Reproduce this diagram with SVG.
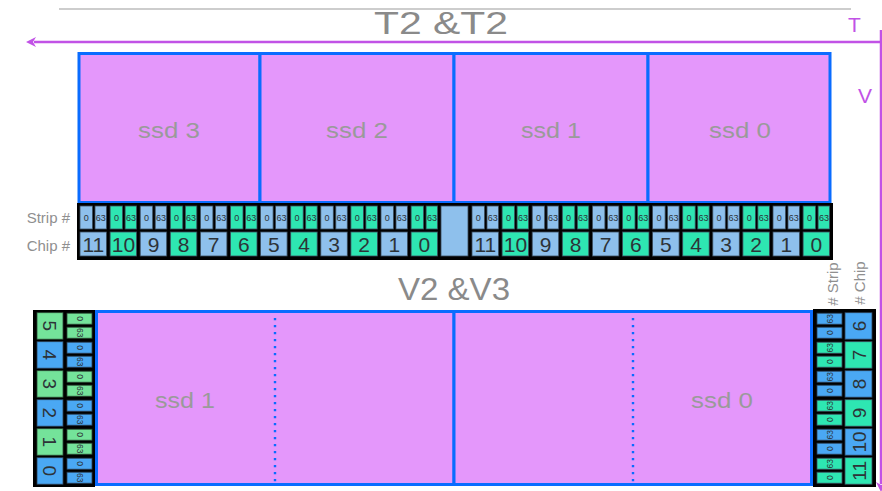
<svg xmlns="http://www.w3.org/2000/svg" width="882" height="491" viewBox="0 0 882 491">
  <defs>
    <style>
      .ssd{fill:#e497fb;stroke:#0a6cff;stroke-width:3}
      .lbl{font-family:"Liberation Sans",Arial,sans-serif;fill:#9a9a9a;font-size:22px;text-anchor:middle}
      .title{font-family:"Liberation Sans",Arial,sans-serif;fill:#8a8a8a;font-size:31px;text-anchor:middle}
      .side{font-family:"Liberation Sans",Arial,sans-serif;fill:#8f8f8f;font-size:15px}
      .axis{font-family:"Liberation Sans",Arial,sans-serif;fill:#c152e6;font-size:21px}
      .b{fill:#8ec0ec;stroke:#3b4c5c;stroke-width:0.8}
      .g{fill:#2ee6b2;stroke:#3b4c5c;stroke-width:0.8}
      .bb{fill:#4aa8f4;stroke:#2b3f55;stroke-width:0.8}
      .lg{fill:#74e39a;stroke:#2b4a35;stroke-width:0.8}
      .chip{font-family:"Liberation Sans",Arial,sans-serif;fill:#2d3338;font-size:21px;text-anchor:middle}
      .strip{font-family:"Liberation Sans",Arial,sans-serif;fill:#2d3338;font-size:9px;text-anchor:middle}
      .chipv{font-family:"Liberation Sans",Arial,sans-serif;fill:#2d3338;font-size:19px;text-anchor:middle}
      .stripv{font-family:"Liberation Sans",Arial,sans-serif;fill:#2d3338;font-size:8.5px;text-anchor:middle}
      .ax{stroke:#c152e6;stroke-width:2.5;fill:none}
    </style>
    <marker id="ah" viewBox="0 0 10 10" refX="2" refY="5" markerWidth="4" markerHeight="4" orient="auto-start-reverse">
      <path d="M0,0 L10,5 L0,10 L3,5 z" fill="#c152e6"/>
    </marker>
  </defs>

  <!-- header rule and axes -->
  <line x1="59" y1="9" x2="851" y2="9" stroke="#bdbdbd" stroke-width="1.5"/>
  <g id="axes">
    <line class="ax" x1="882" y1="42" x2="34" y2="42" marker-end="url(#ah)"/>
    <line class="ax" x1="881" y1="30" x2="881" y2="484" marker-end="url(#ah)"/>
    <text class="axis" x="848" y="32">T</text>
    <text class="axis" x="858" y="103">V</text>
  </g>

  <text class="title" x="441" y="34" textLength="134" lengthAdjust="spacingAndGlyphs">T2 &amp;T2</text>
  <text class="title" x="454" y="300" textLength="112" lengthAdjust="spacingAndGlyphs">V2 &amp;V3</text>

  <!-- top sensors -->
  <g id="t-ssd3"><rect class="ssd" x="79" y="53.5" width="181" height="149"/><text class="lbl" x="169" y="138" textLength="62" lengthAdjust="spacingAndGlyphs">ssd 3</text></g>
  <g id="t-ssd2"><rect class="ssd" x="260" y="53.5" width="194" height="149"/><text class="lbl" x="357" y="138" textLength="62" lengthAdjust="spacingAndGlyphs">ssd 2</text></g>
  <g id="t-ssd1"><rect class="ssd" x="454" y="53.5" width="194" height="149"/><text class="lbl" x="551" y="138" textLength="60" lengthAdjust="spacingAndGlyphs">ssd 1</text></g>
  <g id="t-ssd0"><rect class="ssd" x="648" y="53.5" width="182" height="149"/><text class="lbl" x="740" y="138" textLength="62" lengthAdjust="spacingAndGlyphs">ssd 0</text></g>

  <text class="side" x="70" y="223" text-anchor="end">Strip #</text>
  <text class="side" x="70" y="251" text-anchor="end">Chip #</text>

  <!-- top readout chips -->
  <g id="t-readout">
    <rect x="77" y="203" width="756" height="57" fill="#000"/>
    <rect class="b" x="441" y="206" width="27" height="50"/>
    <g id="tl11" transform="translate(80,0)"><rect class="b" x="0" y="206" width="12.5" height="23"/><rect class="b" x="15" y="206" width="11.5" height="23"/><text class="strip" x="6.3" y="220.5">0</text><text class="strip" x="20.8" y="220.5">63</text><rect class="b" x="0" y="232" width="26.5" height="24"/><text class="chip" x="13.3" y="251.5">11</text></g>
    <g id="tl10" transform="translate(110.1,0)"><rect class="g" x="0" y="206" width="12.5" height="23"/><rect class="g" x="15" y="206" width="11.5" height="23"/><text class="strip" x="6.3" y="220.5">0</text><text class="strip" x="20.8" y="220.5">63</text><rect class="g" x="0" y="232" width="26.5" height="24"/><text class="chip" x="13.3" y="251.5">10</text></g>
    <g id="tl9" transform="translate(140.2,0)"><rect class="b" x="0" y="206" width="12.5" height="23"/><rect class="b" x="15" y="206" width="11.5" height="23"/><text class="strip" x="6.3" y="220.5">0</text><text class="strip" x="20.8" y="220.5">63</text><rect class="b" x="0" y="232" width="26.5" height="24"/><text class="chip" x="13.3" y="251.5">9</text></g>
    <g id="tl8" transform="translate(170.3,0)"><rect class="g" x="0" y="206" width="12.5" height="23"/><rect class="g" x="15" y="206" width="11.5" height="23"/><text class="strip" x="6.3" y="220.5">0</text><text class="strip" x="20.8" y="220.5">63</text><rect class="g" x="0" y="232" width="26.5" height="24"/><text class="chip" x="13.3" y="251.5">8</text></g>
    <g id="tl7" transform="translate(200.4,0)"><rect class="b" x="0" y="206" width="12.5" height="23"/><rect class="b" x="15" y="206" width="11.5" height="23"/><text class="strip" x="6.3" y="220.5">0</text><text class="strip" x="20.8" y="220.5">63</text><rect class="b" x="0" y="232" width="26.5" height="24"/><text class="chip" x="13.3" y="251.5">7</text></g>
    <g id="tl6" transform="translate(230.5,0)"><rect class="g" x="0" y="206" width="12.5" height="23"/><rect class="g" x="15" y="206" width="11.5" height="23"/><text class="strip" x="6.3" y="220.5">0</text><text class="strip" x="20.8" y="220.5">63</text><rect class="g" x="0" y="232" width="26.5" height="24"/><text class="chip" x="13.3" y="251.5">6</text></g>
    <g id="tl5" transform="translate(260.6,0)"><rect class="b" x="0" y="206" width="12.5" height="23"/><rect class="b" x="15" y="206" width="11.5" height="23"/><text class="strip" x="6.3" y="220.5">0</text><text class="strip" x="20.8" y="220.5">63</text><rect class="b" x="0" y="232" width="26.5" height="24"/><text class="chip" x="13.3" y="251.5">5</text></g>
    <g id="tl4" transform="translate(290.7,0)"><rect class="g" x="0" y="206" width="12.5" height="23"/><rect class="g" x="15" y="206" width="11.5" height="23"/><text class="strip" x="6.3" y="220.5">0</text><text class="strip" x="20.8" y="220.5">63</text><rect class="g" x="0" y="232" width="26.5" height="24"/><text class="chip" x="13.3" y="251.5">4</text></g>
    <g id="tl3" transform="translate(320.8,0)"><rect class="b" x="0" y="206" width="12.5" height="23"/><rect class="b" x="15" y="206" width="11.5" height="23"/><text class="strip" x="6.3" y="220.5">0</text><text class="strip" x="20.8" y="220.5">63</text><rect class="b" x="0" y="232" width="26.5" height="24"/><text class="chip" x="13.3" y="251.5">3</text></g>
    <g id="tl2" transform="translate(350.9,0)"><rect class="g" x="0" y="206" width="12.5" height="23"/><rect class="g" x="15" y="206" width="11.5" height="23"/><text class="strip" x="6.3" y="220.5">0</text><text class="strip" x="20.8" y="220.5">63</text><rect class="g" x="0" y="232" width="26.5" height="24"/><text class="chip" x="13.3" y="251.5">2</text></g>
    <g id="tl1" transform="translate(381,0)"><rect class="b" x="0" y="206" width="12.5" height="23"/><rect class="b" x="15" y="206" width="11.5" height="23"/><text class="strip" x="6.3" y="220.5">0</text><text class="strip" x="20.8" y="220.5">63</text><rect class="b" x="0" y="232" width="26.5" height="24"/><text class="chip" x="13.3" y="251.5">1</text></g>
    <g id="tl0" transform="translate(411.1,0)"><rect class="g" x="0" y="206" width="12.5" height="23"/><rect class="g" x="15" y="206" width="11.5" height="23"/><text class="strip" x="6.3" y="220.5">0</text><text class="strip" x="20.8" y="220.5">63</text><rect class="g" x="0" y="232" width="26.5" height="24"/><text class="chip" x="13.3" y="251.5">0</text></g>

    <g id="tr11" transform="translate(472,0)"><rect class="b" x="0" y="206" width="12.5" height="23"/><rect class="b" x="15" y="206" width="11.5" height="23"/><text class="strip" x="6.3" y="220.5">0</text><text class="strip" x="20.8" y="220.5">63</text><rect class="b" x="0" y="232" width="26.5" height="24"/><text class="chip" x="13.3" y="251.5">11</text></g>
    <g id="tr10" transform="translate(502.1,0)"><rect class="g" x="0" y="206" width="12.5" height="23"/><rect class="g" x="15" y="206" width="11.5" height="23"/><text class="strip" x="6.3" y="220.5">0</text><text class="strip" x="20.8" y="220.5">63</text><rect class="g" x="0" y="232" width="26.5" height="24"/><text class="chip" x="13.3" y="251.5">10</text></g>
    <g id="tr9" transform="translate(532.2,0)"><rect class="b" x="0" y="206" width="12.5" height="23"/><rect class="b" x="15" y="206" width="11.5" height="23"/><text class="strip" x="6.3" y="220.5">0</text><text class="strip" x="20.8" y="220.5">63</text><rect class="b" x="0" y="232" width="26.5" height="24"/><text class="chip" x="13.3" y="251.5">9</text></g>
    <g id="tr8" transform="translate(562.3,0)"><rect class="g" x="0" y="206" width="12.5" height="23"/><rect class="g" x="15" y="206" width="11.5" height="23"/><text class="strip" x="6.3" y="220.5">0</text><text class="strip" x="20.8" y="220.5">63</text><rect class="g" x="0" y="232" width="26.5" height="24"/><text class="chip" x="13.3" y="251.5">8</text></g>
    <g id="tr7" transform="translate(592.4,0)"><rect class="b" x="0" y="206" width="12.5" height="23"/><rect class="b" x="15" y="206" width="11.5" height="23"/><text class="strip" x="6.3" y="220.5">0</text><text class="strip" x="20.8" y="220.5">63</text><rect class="b" x="0" y="232" width="26.5" height="24"/><text class="chip" x="13.3" y="251.5">7</text></g>
    <g id="tr6" transform="translate(622.5,0)"><rect class="g" x="0" y="206" width="12.5" height="23"/><rect class="g" x="15" y="206" width="11.5" height="23"/><text class="strip" x="6.3" y="220.5">0</text><text class="strip" x="20.8" y="220.5">63</text><rect class="g" x="0" y="232" width="26.5" height="24"/><text class="chip" x="13.3" y="251.5">6</text></g>
    <g id="tr5" transform="translate(652.6,0)"><rect class="b" x="0" y="206" width="12.5" height="23"/><rect class="b" x="15" y="206" width="11.5" height="23"/><text class="strip" x="6.3" y="220.5">0</text><text class="strip" x="20.8" y="220.5">63</text><rect class="b" x="0" y="232" width="26.5" height="24"/><text class="chip" x="13.3" y="251.5">5</text></g>
    <g id="tr4" transform="translate(682.7,0)"><rect class="g" x="0" y="206" width="12.5" height="23"/><rect class="g" x="15" y="206" width="11.5" height="23"/><text class="strip" x="6.3" y="220.5">0</text><text class="strip" x="20.8" y="220.5">63</text><rect class="g" x="0" y="232" width="26.5" height="24"/><text class="chip" x="13.3" y="251.5">4</text></g>
    <g id="tr3" transform="translate(712.8,0)"><rect class="b" x="0" y="206" width="12.5" height="23"/><rect class="b" x="15" y="206" width="11.5" height="23"/><text class="strip" x="6.3" y="220.5">0</text><text class="strip" x="20.8" y="220.5">63</text><rect class="b" x="0" y="232" width="26.5" height="24"/><text class="chip" x="13.3" y="251.5">3</text></g>
    <g id="tr2" transform="translate(742.9,0)"><rect class="g" x="0" y="206" width="12.5" height="23"/><rect class="g" x="15" y="206" width="11.5" height="23"/><text class="strip" x="6.3" y="220.5">0</text><text class="strip" x="20.8" y="220.5">63</text><rect class="g" x="0" y="232" width="26.5" height="24"/><text class="chip" x="13.3" y="251.5">2</text></g>
    <g id="tr1" transform="translate(773,0)"><rect class="b" x="0" y="206" width="12.5" height="23"/><rect class="b" x="15" y="206" width="11.5" height="23"/><text class="strip" x="6.3" y="220.5">0</text><text class="strip" x="20.8" y="220.5">63</text><rect class="b" x="0" y="232" width="26.5" height="24"/><text class="chip" x="13.3" y="251.5">1</text></g>
    <g id="tr0" transform="translate(803.1,0)"><rect class="g" x="0" y="206" width="12.5" height="23"/><rect class="g" x="15" y="206" width="11.5" height="23"/><text class="strip" x="6.3" y="220.5">0</text><text class="strip" x="20.8" y="220.5">63</text><rect class="g" x="0" y="232" width="26.5" height="24"/><text class="chip" x="13.3" y="251.5">0</text></g>
  </g>

  <!-- bottom sensors -->
  <g id="v-ssd1"><rect class="ssd" x="96.5" y="311.5" width="357.5" height="173"/><text class="lbl" x="185" y="408" textLength="60" lengthAdjust="spacingAndGlyphs">ssd 1</text></g>
  <g id="v-ssd0"><rect class="ssd" x="454" y="311.5" width="357.5" height="173"/><text class="lbl" x="722" y="408" textLength="62" lengthAdjust="spacingAndGlyphs">ssd 0</text></g>
  <line x1="275" y1="318" x2="275" y2="483" stroke="#0a6cff" stroke-width="2.4" stroke-dasharray="2.2 4.8"/>
  <line x1="633" y1="318" x2="633" y2="483" stroke="#0a6cff" stroke-width="2.4" stroke-dasharray="2.2 4.8"/>

  <!-- left readout chips -->
  <g id="v-left">
    <rect x="33" y="310" width="62" height="177" fill="#000"/>
    <g id="vl5" transform="translate(0,312.7)"><rect class="lg" x="37" y="0" width="26" height="26.5"/><text class="chipv" transform="translate(50,13.2) rotate(90)" y="7">5</text><rect class="lg" x="67" y="0.5" width="25" height="11"/><rect class="lg" x="67" y="14.5" width="25" height="11"/><text class="stripv" transform="translate(79.5,6) rotate(90)" y="3">0</text><text class="stripv" transform="translate(79.5,20) rotate(90)" y="3">63</text></g>
    <g id="vl4" transform="translate(0,341.7)"><rect class="bb" x="37" y="0" width="26" height="26.5"/><text class="chipv" transform="translate(50,13.2) rotate(90)" y="7">4</text><rect class="bb" x="67" y="0.5" width="25" height="11"/><rect class="bb" x="67" y="14.5" width="25" height="11"/><text class="stripv" transform="translate(79.5,6) rotate(90)" y="3">0</text><text class="stripv" transform="translate(79.5,20) rotate(90)" y="3">63</text></g>
    <g id="vl3" transform="translate(0,370.7)"><rect class="lg" x="37" y="0" width="26" height="26.5"/><text class="chipv" transform="translate(50,13.2) rotate(90)" y="7">3</text><rect class="lg" x="67" y="0.5" width="25" height="11"/><rect class="lg" x="67" y="14.5" width="25" height="11"/><text class="stripv" transform="translate(79.5,6) rotate(90)" y="3">0</text><text class="stripv" transform="translate(79.5,20) rotate(90)" y="3">63</text></g>
    <g id="vl2" transform="translate(0,399.7)"><rect class="bb" x="37" y="0" width="26" height="26.5"/><text class="chipv" transform="translate(50,13.2) rotate(90)" y="7">2</text><rect class="bb" x="67" y="0.5" width="25" height="11"/><rect class="bb" x="67" y="14.5" width="25" height="11"/><text class="stripv" transform="translate(79.5,6) rotate(90)" y="3">0</text><text class="stripv" transform="translate(79.5,20) rotate(90)" y="3">63</text></g>
    <g id="vl1" transform="translate(0,428.7)"><rect class="lg" x="37" y="0" width="26" height="26.5"/><text class="chipv" transform="translate(50,13.2) rotate(90)" y="7">1</text><rect class="lg" x="67" y="0.5" width="25" height="11"/><rect class="lg" x="67" y="14.5" width="25" height="11"/><text class="stripv" transform="translate(79.5,6) rotate(90)" y="3">0</text><text class="stripv" transform="translate(79.5,20) rotate(90)" y="3">63</text></g>
    <g id="vl0" transform="translate(0,457.7)"><rect class="bb" x="37" y="0" width="26" height="26.5"/><text class="chipv" transform="translate(50,13.2) rotate(90)" y="7">0</text><rect class="bb" x="67" y="0.5" width="25" height="11"/><rect class="bb" x="67" y="14.5" width="25" height="11"/><text class="stripv" transform="translate(79.5,6) rotate(90)" y="3">0</text><text class="stripv" transform="translate(79.5,20) rotate(90)" y="3">63</text></g>
  </g>

  <!-- right readout chips -->
  <text class="side" transform="translate(838,284) rotate(-90)" text-anchor="middle"># Strip</text>
  <text class="side" transform="translate(865,283) rotate(-90)" text-anchor="middle"># Chip</text>
  <g id="v-right">
    <rect x="813" y="309" width="63" height="178" fill="#000"/>
    <g id="vr6" transform="translate(0,312.7)"><rect class="bb" x="845" y="0" width="27" height="26.5"/><text class="chipv" transform="translate(858.5,13.2) rotate(-90)" y="7">6</text><rect class="bb" x="817" y="0.5" width="25" height="11"/><rect class="bb" x="817" y="14.5" width="25" height="11"/><text class="stripv" transform="translate(829.5,6) rotate(-90)" y="3">63</text><text class="stripv" transform="translate(829.5,20) rotate(-90)" y="3">0</text></g>
    <g id="vr7" transform="translate(0,341.7)"><rect class="g" x="845" y="0" width="27" height="26.5"/><text class="chipv" transform="translate(858.5,13.2) rotate(-90)" y="7">7</text><rect class="g" x="817" y="0.5" width="25" height="11"/><rect class="g" x="817" y="14.5" width="25" height="11"/><text class="stripv" transform="translate(829.5,6) rotate(-90)" y="3">63</text><text class="stripv" transform="translate(829.5,20) rotate(-90)" y="3">0</text></g>
    <g id="vr8" transform="translate(0,370.7)"><rect class="bb" x="845" y="0" width="27" height="26.5"/><text class="chipv" transform="translate(858.5,13.2) rotate(-90)" y="7">8</text><rect class="bb" x="817" y="0.5" width="25" height="11"/><rect class="bb" x="817" y="14.5" width="25" height="11"/><text class="stripv" transform="translate(829.5,6) rotate(-90)" y="3">63</text><text class="stripv" transform="translate(829.5,20) rotate(-90)" y="3">0</text></g>
    <g id="vr9" transform="translate(0,399.7)"><rect class="g" x="845" y="0" width="27" height="26.5"/><text class="chipv" transform="translate(858.5,13.2) rotate(-90)" y="7">9</text><rect class="g" x="817" y="0.5" width="25" height="11"/><rect class="g" x="817" y="14.5" width="25" height="11"/><text class="stripv" transform="translate(829.5,6) rotate(-90)" y="3">63</text><text class="stripv" transform="translate(829.5,20) rotate(-90)" y="3">0</text></g>
    <g id="vr10" transform="translate(0,428.7)"><rect class="bb" x="845" y="0" width="27" height="26.5"/><text class="chipv" transform="translate(858.5,13.2) rotate(-90)" y="7">10</text><rect class="bb" x="817" y="0.5" width="25" height="11"/><rect class="bb" x="817" y="14.5" width="25" height="11"/><text class="stripv" transform="translate(829.5,6) rotate(-90)" y="3">63</text><text class="stripv" transform="translate(829.5,20) rotate(-90)" y="3">0</text></g>
    <g id="vr11" transform="translate(0,457.7)"><rect class="g" x="845" y="0" width="27" height="26.5"/><text class="chipv" transform="translate(858.5,13.2) rotate(-90)" y="7">11</text><rect class="g" x="817" y="0.5" width="25" height="11"/><rect class="g" x="817" y="14.5" width="25" height="11"/><text class="stripv" transform="translate(829.5,6) rotate(-90)" y="3">63</text><text class="stripv" transform="translate(829.5,20) rotate(-90)" y="3">0</text></g>
  </g>
</svg>
